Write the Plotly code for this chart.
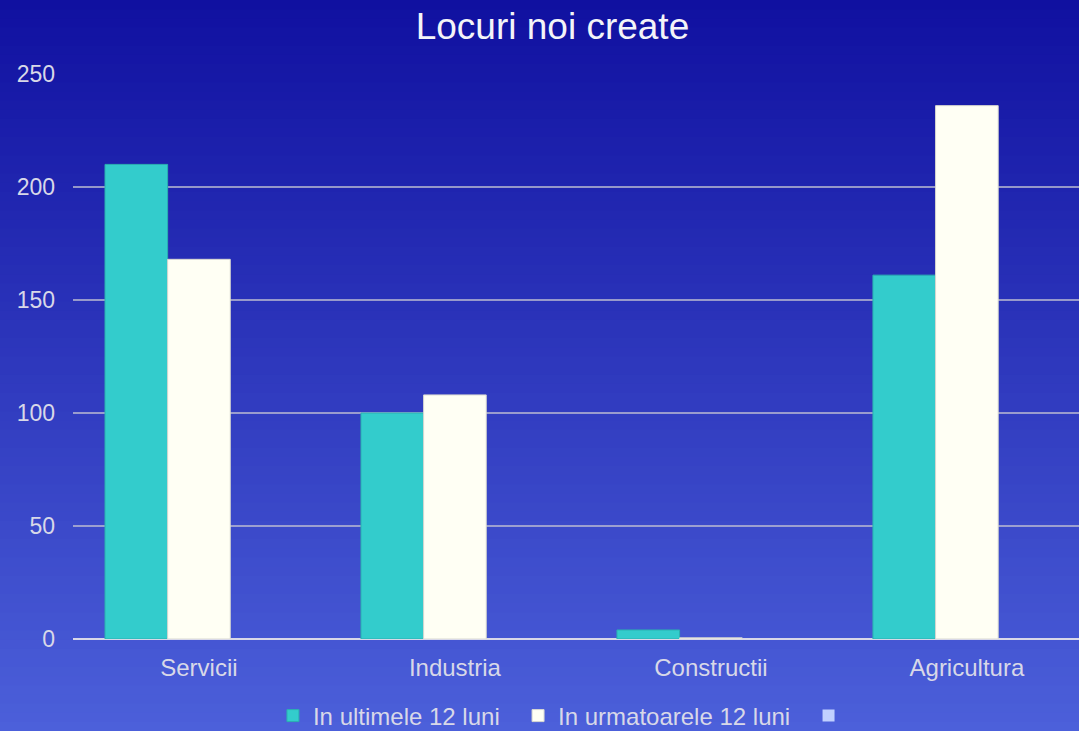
import plotly.graph_objects as go

categories = ["Servicii", "Industria", "Constructii", "Agricultura"]
series_names = ["In ultimele 12 luni", "In urmatoarele 12 luni", ""]
last_12 = [210, 100, 4, 161]
next_12 = [168, 108, 0.5, 236]
third = [0, 0, 0, 0]
y_ticks = [0, 50, 100, 150, 200, 250]

W, H = 1079, 731
ml, mr, mt, mb = 73, 0, 74, 92
pw, ph = W - ml - mr, H - mt - mb

pad = "\u00a0\u00a0"

fig = go.Figure()
fig.add_bar(x=categories, y=last_12, name=series_names[0] + pad,
            marker=dict(color="#33cccc", line=dict(color="#2ab0b0", width=1)))
fig.add_bar(x=categories, y=next_12, name=series_names[1] + pad,
            marker=dict(color="#fffff4", line=dict(color="#d8d8d0", width=1)))
fig.add_bar(x=categories, y=third, name=series_names[2] or " ",
            marker=dict(color="#c0d0ff", line=dict(width=0)))

# vertical gradient background built from stripes
top = (16, 16, 160)
bot = (76, 96, 218)
n = 80
shapes = []
for i in range(n):
    y0px = H * i / n
    y1px = H * (i + 1) / n + 1
    t = (i + 0.5) / n
    c = tuple(int(round(top[k] + (bot[k] - top[k]) * t)) for k in range(3))
    shapes.append(dict(
        type="rect", xref="paper", yref="paper", layer="below",
        x0=-ml / pw - 0.01, x1=1.01,
        y0=(H - mb - y1px) / ph, y1=(H - mb - y0px) / ph,
        fillcolor="rgb(%d,%d,%d)" % c, line=dict(width=0)))

fig.update_layout(
    width=W, height=H,
    margin=dict(l=ml, r=mr, t=mt, b=mb, autoexpand=False),
    paper_bgcolor="rgb(48,60,190)",
    plot_bgcolor="rgba(0,0,0,0)",
    shapes=shapes,
    font=dict(family="Liberation Sans, Arial, sans-serif", color="#d8d8e8", size=23),
    title=dict(text="Locuri noi create", x=0.512, xanchor="center", y=1 - 26 / H,
               yanchor="middle", font=dict(size=37, color="#f4f4f8")),
    barmode="group", bargap=0.266, bargroupgap=0.0,
    showlegend=True,
    legend=dict(orientation="h", x=0.491, xanchor="center", y=(H - mb - 716) / ph,
                yanchor="middle", font=dict(size=24, color="#d8d8e8"),
                bgcolor="rgba(0,0,0,0)", itemwidth=30),
    xaxis=dict(range=[-0.492, 3.438], showgrid=False, ticks="", showline=False,
               zeroline=False, ticklabelstandoff=12,
               tickfont=dict(size=24, color="#d8d8e8")),
    yaxis=dict(range=[0, 250], tickvals=y_ticks, showgrid=True,
               gridcolor="rgba(190,190,210,0.75)", gridwidth=1.5,
               zeroline=True, zerolinecolor="#d8d8e8", zerolinewidth=2,
               ticks="", ticklabelstandoff=17,
               tickfont=dict(size=23, color="#d8d8e8")),
)

fig.write_html("out.html", config={"displayModeBar": False},
               post_script="document.body.style.margin='0';document.body.style.padding='0';")
